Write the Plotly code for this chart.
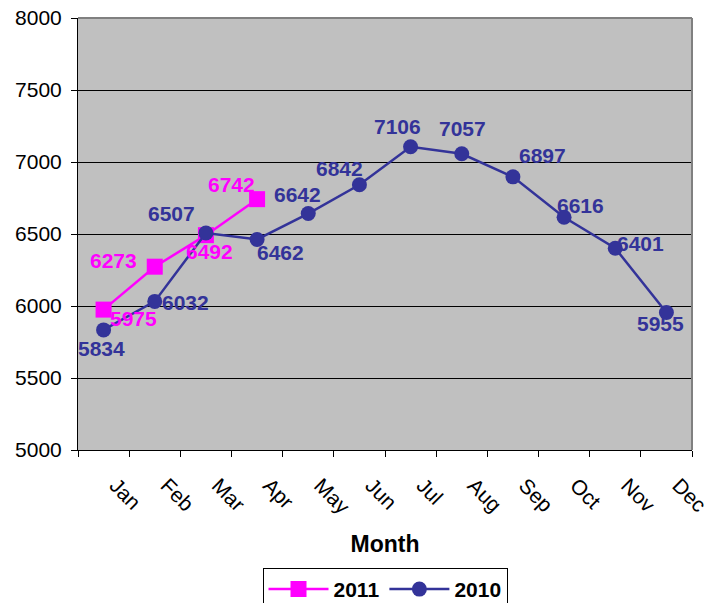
import plotly.graph_objects as go

months = ["Jan", "Feb", "Mar", "Apr", "May", "Jun", "Jul", "Aug", "Sep", "Oct", "Nov", "Dec"]
sales_2011 = [5975, 6273, 6492, 6742]
sales_2010 = [5834, 6032, 6507, 6462, 6642, 6842, 7106, 7057, 6897, 6616, 6401, 5955]

# label offsets in pixels (xshift, yshift) - styling only
off_2011 = [(30, -9), (-41, 6), (4, -16), (-26, 15)]
off_2010 = [(-2, -19), (31, -1), (-34, 19), (23, -13), (-11, 19), (-20, 16),
            (-13, 20), (1, 25), (30, 21), (16, 12), (25, 5), (-6, -11)]

C2011 = "#FF00FF"
C2010 = "#333399"
FONT = "Arial, Liberation Sans, sans-serif"

fig = go.Figure()
fig.add_trace(go.Scatter(
    x=months[:len(sales_2011)], y=sales_2011, name="2011", mode="lines+markers",
    line=dict(color=C2011, width=2.5),
    marker=dict(symbol="square", size=16, color=C2011),
))
fig.add_trace(go.Scatter(
    x=months, y=sales_2010, name="2010", mode="lines+markers",
    line=dict(color=C2010, width=2.5),
    marker=dict(symbol="circle", size=15, color=C2010),
))

annotations = []
for m, v, (dx, dy) in zip(months, sales_2011, off_2011):
    annotations.append(dict(x=m, y=v, text=str(v), showarrow=False, xshift=dx, yshift=dy,
                            font=dict(family=FONT, size=21, color=C2011, weight="bold")))
for m, v, (dx, dy) in zip(months, sales_2010, off_2010):
    annotations.append(dict(x=m, y=v, text=str(v), showarrow=False, xshift=dx, yshift=dy,
                            font=dict(family=FONT, size=21, color=C2010, weight="bold")))

fig.update_layout(
    width=718, height=603,
    margin=dict(l=78, r=26, t=18, b=153, autoexpand=False),
    paper_bgcolor="white",
    plot_bgcolor="#C0C0C0",
    font=dict(family=FONT, size=21, color="black"),
    annotations=annotations,
    showlegend=True,
    legend=dict(orientation="h", x=0.5, xanchor="center", y=-0.273, yanchor="top",
                bordercolor="black", borderwidth=1, bgcolor="white",
                font=dict(family=FONT, size=21, color="black", weight="bold"),
                itemwidth=60),
    shapes=[
        dict(type="line", xref="paper", yref="paper", x0=0, x1=1, y0=1, y1=1,
             line=dict(color="#808080", width=2)),
        dict(type="line", xref="paper", yref="paper", x0=1, x1=1, y0=0, y1=1,
             line=dict(color="#808080", width=2)),
    ],
)
fig.update_xaxes(
    type="category", categoryorder="array", categoryarray=months,
    range=[-0.5, 11.5], automargin=False,
    showgrid=False, showline=True, linecolor="black", linewidth=1,
    ticks="outside", tickson="boundaries", ticklen=6, tickcolor="black",
    tickangle=45, ticklabelstandoff=14, ticklabelshift=12, ticklabeloverflow="allow",
    tickfont=dict(family=FONT, size=21, color="black"),
    title=dict(text="Month", font=dict(family=FONT, size=23, color="black", weight="bold"), standoff=18),
)
fig.update_yaxes(
    range=[5000, 8000], dtick=500, tick0=5000, automargin=False,
    showgrid=True, gridcolor="black", gridwidth=1,
    showline=True, linecolor="black", linewidth=1,
    ticks="outside", ticklen=6, tickcolor="black", ticklabelstandoff=5,
    ticklabeloverflow="allow",
    tickfont=dict(family=FONT, size=21, color="black"),
    zeroline=False,
)

# remove the default 8px page margin so the figure fills the window exactly
fig.write_html("out.html", config={"displayModeBar": False},
               post_script="document.body.style.margin='0';")
